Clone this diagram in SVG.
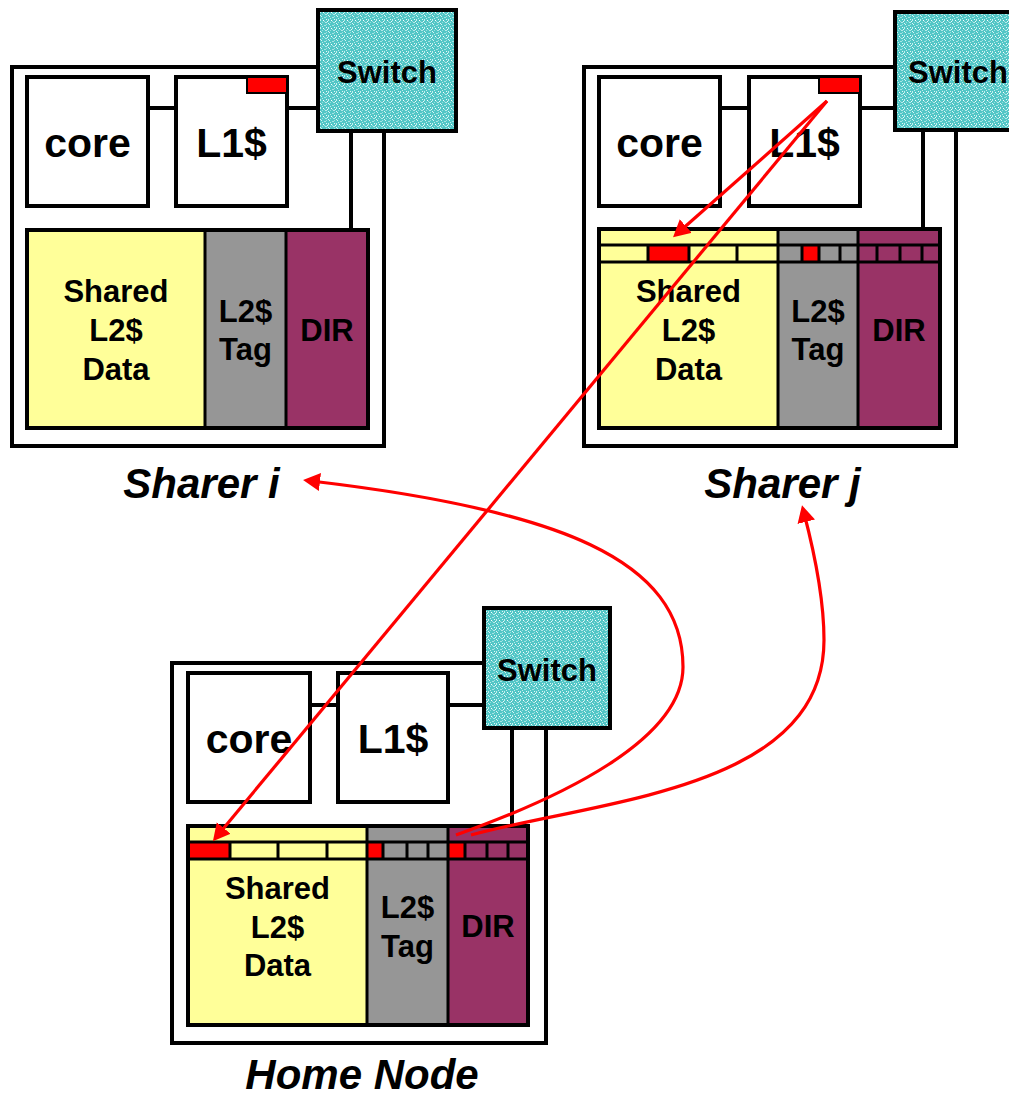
<svg xmlns="http://www.w3.org/2000/svg" width="1009" height="1099" viewBox="0 0 1009 1099">
<defs>
<style>
.bx{fill:#fff;stroke:#000;stroke-width:4}
.ol{fill:none;stroke:#000;stroke-width:4}
.cn{fill:none;stroke:#000;stroke-width:4}
.ln{fill:none;stroke:#000;stroke-width:3}
.yl{fill:#FFFF99}
.gr{fill:#969696}
.dr{fill:#993366}
.rd{fill:#FF0000}
.sw{fill:url(#tex);stroke:#000;stroke-width:4}
.t40{font-family:"Liberation Sans",Arial,sans-serif;font-weight:bold;font-size:41px;text-anchor:middle;fill:#000}
.t30{font-family:"Liberation Sans",Arial,sans-serif;font-weight:bold;font-size:31px;text-anchor:middle;fill:#000}
.t31{font-family:"Liberation Sans",Arial,sans-serif;font-weight:bold;font-size:31px;text-anchor:middle;fill:#000}
.lab{font-family:"Liberation Sans",Arial,sans-serif;font-weight:bold;font-style:italic;font-size:42px;text-anchor:middle;fill:#000}
.arr{fill:none;stroke:#FF0000;stroke-width:3.2}
</style>
<pattern id="tex" width="8" height="8" patternUnits="userSpaceOnUse">
<rect width="8" height="8" fill="#52C6C6"/>
<rect x="1" y="0" width="1" height="1" fill="#D8F4F4"/>
<rect x="4" y="1" width="2" height="1" fill="#A8E4E4"/>
<rect x="0" y="3" width="1" height="2" fill="#C4EEEE"/>
<rect x="3" y="4" width="1" height="1" fill="#FFFFFF"/>
<rect x="6" y="3" width="1" height="1" fill="#E6F8F8"/>
<rect x="5" y="6" width="2" height="1" fill="#B6E9E9"/>
<rect x="2" y="6" width="1" height="1" fill="#9ADFDF"/>
<rect x="7" y="5" width="1" height="1" fill="#F0FBFB"/>
<rect x="2" y="2" width="1" height="1" fill="#BFECEC"/>
<rect x="6" y="0" width="1" height="1" fill="#9FE0E0"/>
<rect x="0" y="7" width="1" height="1" fill="#E0F6F6"/>
<rect x="4" y="5" width="1" height="1" fill="#A0E1E1"/>
</pattern>
<marker id="ah" markerUnits="userSpaceOnUse" markerWidth="20" markerHeight="20" refX="9" refY="9" orient="auto">
<path d="M0,0 L17,9 L0,18 z" fill="#FF0000"/>
</marker>
</defs>
<rect width="1009" height="1099" fill="#fff"/>

<g id="sharer-i">
<path class="ol" d="M318,67 H12 V446 H384 V131"/>
<line class="cn" x1="351" y1="131" x2="351" y2="230"/>
<line class="cn" x1="148" y1="108" x2="176" y2="108"/>
<line class="cn" x1="287" y1="108" x2="318" y2="108"/>
<rect class="bx" x="27" y="77" width="121" height="129"/>
<rect class="bx" x="176" y="77" width="111" height="129"/>
<rect class="rd" x="247" y="77" width="40" height="16" stroke="#000" stroke-width="2"/>
<rect class="sw" x="318" y="10" width="138" height="121"/>
<rect class="yl" x="27" y="230" width="178" height="198"/>
<rect class="gr" x="205" y="230" width="81" height="198"/>
<rect class="dr" x="286" y="230" width="82" height="198"/>
<line class="ln" x1="205" y1="230" x2="205" y2="428"/>
<line class="ln" x1="286" y1="230" x2="286" y2="428"/>
<rect class="ol" x="27" y="230" width="341" height="198"/>
<text class="t40" x="87.5" y="157">core</text>
<text class="t40" x="231.5" y="157">L1$</text>
<text class="t31" x="387" y="83">Switch</text>
<text class="t30" x="116" y="302">Shared</text>
<text class="t30" x="116" y="341">L2$</text>
<text class="t30" x="116" y="380">Data</text>
<text class="t30" x="245.5" y="322">L2$</text>
<text class="t30" x="245.5" y="360">Tag</text>
<text class="t30" x="327" y="341">DIR</text>
<text class="lab" x="201.5" y="498">Sharer i</text>
</g>

<g id="sharer-j">
<path class="ol" d="M895,67 H584 V446 H956 V131"/>
<line class="cn" x1="923" y1="131" x2="923" y2="229"/>
<line class="cn" x1="720" y1="108" x2="749" y2="108"/>
<line class="cn" x1="860" y1="108" x2="895" y2="108"/>
<rect class="bx" x="599" y="77" width="121" height="129"/>
<rect class="bx" x="749" y="77" width="111" height="129"/>
<rect class="rd" x="819" y="77" width="41" height="16" stroke="#000" stroke-width="2"/>
<rect class="sw" x="895" y="12" width="140" height="118"/>
<rect class="yl" x="599" y="229" width="179" height="199"/>
<rect class="gr" x="778" y="229" width="80" height="199"/>
<rect class="dr" x="858" y="229" width="82" height="199"/>
<rect class="rd" x="648" y="245" width="41" height="17"/>
<rect class="rd" x="802" y="245" width="17" height="17"/>
<path class="ln" d="M599,245 H940 M599,262 H940 M648,245 V262 M689,245 V262 M737,245 V262 M802,245 V262 M819,245 V262 M840,245 V262 M877,245 V262 M900,245 V262 M922,245 V262"/>
<line class="ln" x1="778" y1="229" x2="778" y2="428"/>
<line class="ln" x1="858" y1="229" x2="858" y2="428"/>
<rect class="ol" x="599" y="229" width="341" height="199"/>
<text class="t40" x="659.5" y="157">core</text>
<text class="t40" x="804.5" y="157">L1$</text>
<text class="t31" x="958" y="83">Switch</text>
<text class="t30" x="688.5" y="302">Shared</text>
<text class="t30" x="688.5" y="341">L2$</text>
<text class="t30" x="688.5" y="380">Data</text>
<text class="t30" x="818" y="322">L2$</text>
<text class="t30" x="818" y="360">Tag</text>
<text class="t30" x="899" y="341">DIR</text>
<text class="lab" x="782.5" y="498">Sharer j</text>
</g>

<g id="home-node">
<path class="ol" d="M484,663 H172 V1043 H546 V728"/>
<line class="cn" x1="512" y1="728" x2="512" y2="826"/>
<line class="cn" x1="310" y1="705" x2="338" y2="705"/>
<line class="cn" x1="448" y1="705" x2="484" y2="705"/>
<rect class="bx" x="188" y="673" width="122" height="129"/>
<rect class="bx" x="338" y="673" width="110" height="129"/>
<rect class="sw" x="484" y="608" width="126" height="120"/>
<rect class="yl" x="188" y="826" width="179" height="199"/>
<rect class="gr" x="367" y="826" width="81" height="199"/>
<rect class="dr" x="448" y="826" width="80" height="199"/>
<rect class="rd" x="188" y="842" width="42" height="17"/>
<rect class="rd" x="367" y="842" width="16" height="17"/>
<rect class="rd" x="448" y="842" width="17" height="17"/>
<path class="ln" d="M188,842 H528 M188,859 H528 M230,842 V859 M278,842 V859 M327,842 V859 M383,842 V859 M407,842 V859 M428,842 V859 M465,842 V859 M487,842 V859 M508,842 V859"/>
<line class="ln" x1="367" y1="826" x2="367" y2="1025"/>
<line class="ln" x1="448" y1="826" x2="448" y2="1025"/>
<rect class="ol" x="188" y="826" width="340" height="199"/>
<text class="t40" x="249" y="753">core</text>
<text class="t40" x="393" y="753">L1$</text>
<text class="t31" x="547" y="681">Switch</text>
<text class="t30" x="277.5" y="899">Shared</text>
<text class="t30" x="277.5" y="938">L2$</text>
<text class="t30" x="277.5" y="976">Data</text>
<text class="t30" x="407.5" y="918">L2$</text>
<text class="t30" x="407.5" y="957">Tag</text>
<text class="t30" x="488" y="937">DIR</text>
<text class="lab" x="362" y="1089">Home Node</text>
</g>

<g id="connectors">
<path class="arr" marker-end="url(#ah)" d="M827,101 L679,232"/>
<path class="arr" marker-end="url(#ah)" d="M827,101 L218,835"/>
<path class="arr" marker-end="url(#ah)" d="M456,835 C560,798 683,740 683,667 C683,560 560,510 311,481"/>
<path class="arr" marker-end="url(#ah)" d="M471,835 C600,800 824,790 824,640 C824,600 815,555 804,513"/>
</g>
</svg>
